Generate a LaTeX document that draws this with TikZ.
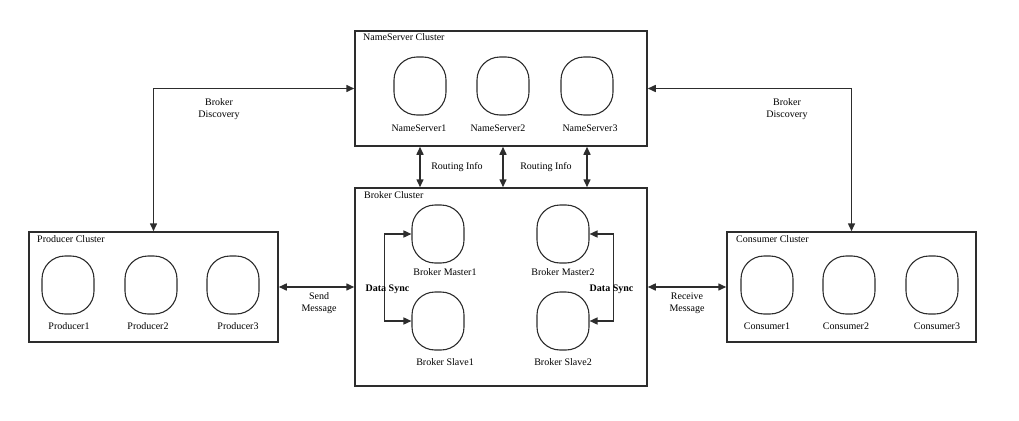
\documentclass[tikz,border=0pt]{standalone}
\usepackage{fontspec}
\setmainfont{Liberation Serif}
\usetikzlibrary{arrows.meta}
\definecolor{linegray}{RGB}{45,45,45}
\begin{document}
\begin{tikzpicture}[x=1pt,y=-1pt]
\tikzstyle{cluster}=[draw=linegray, line width=1.5pt, inner sep=0pt]
\tikzstyle{server}=[draw=linegray, line width=1.1pt, rounded corners=23pt, minimum width=52pt, minimum height=58pt, inner sep=0pt]
\tikzstyle{txt}=[font=\fontsize{10}{12}\selectfont, inner sep=0pt, align=center]
\tikzstyle{conn}=[draw=linegray, line width=1.5pt, {Triangle[length=8pt,width=7pt]}-{Triangle[length=8pt,width=7pt]}]

\useasboundingbox (0,0) rectangle (1019,420);

% cluster boxes
\node (ns-box) at (501,88.5) [cluster, minimum width=292pt, minimum height=115pt] {};
\node (broker-box) at (501,287) [cluster, minimum width=292pt, minimum height=198pt] {};
\node (prod-box) at (153.5,287) [cluster, minimum width=249pt, minimum height=110pt] {};
\node (cons-box) at (851.5,287) [cluster, minimum width=249pt, minimum height=110pt] {};

\node (ns-title) at (363,37) [txt, anchor=west] {NameServer Cluster};
\node (broker-title) at (364,195) [txt, anchor=west] {Broker Cluster};
\node (prod-title) at (37,239) [txt, anchor=west] {Producer Cluster};
\node (cons-title) at (736,239) [txt, anchor=west] {Consumer Cluster};

% name servers
\node (ns1) at (420,86) [server] {};
\node (ns2) at (503,86) [server] {};
\node (ns3) at (587,86) [server] {};
\node (ns1-lbl) at (419,128) [txt] {NameServer1};
\node (ns2-lbl) at (498,128) [txt] {NameServer2};
\node (ns3-lbl) at (590,128) [txt] {NameServer3};

% brokers
\node (bm1) at (438,234) [server] {};
\node (bm2) at (563,234) [server] {};
\node (bs1) at (438,321) [server] {};
\node (bs2) at (563,321) [server] {};
\node (bm1-lbl) at (445,272) [txt] {Broker Master1};
\node (bm2-lbl) at (563,272) [txt] {Broker Master2};
\node (bs1-lbl) at (445,362) [txt] {Broker Slave1};
\node (bs2-lbl) at (563,362) [txt] {Broker Slave2};

% producers
\node (p1) at (68,285) [server] {};
\node (p2) at (151,285) [server] {};
\node (p3) at (233,285) [server] {};
\node (p1-lbl) at (69,326) [txt] {Producer1};
\node (p2-lbl) at (148,326) [txt] {Producer2};
\node (p3-lbl) at (238,326) [txt] {Producer3};

% consumers
\node (c1) at (767,285) [server] {};
\node (c2) at (849,285) [server] {};
\node (c3) at (932,285) [server] {};
\node (c1-lbl) at (767,326) [txt] {Consumer1};
\node (c2-lbl) at (846,326) [txt] {Consumer2};
\node (c3-lbl) at (937,326) [txt] {Consumer3};

% broker discovery
\draw [conn] (ns-box.west) -| (prod-box.north);
\draw [conn] (ns-box.east) -| (cons-box.north);
\node (disc-l) at (219,109) [txt] {Broker\\Discovery};
\node (disc-r) at (787,109) [txt] {Broker\\Discovery};

% routing info
\foreach \n in {ns1,ns2,ns3}
    \draw [conn] (\n |- ns-box.south) -- (\n |- broker-box.north);
\node (route-l) at (457,167) [txt] {Routing Info};
\node (route-r) at (546,167) [txt] {Routing Info};

% messages
\draw [conn] (prod-box) -- (broker-box);
\draw [conn] (broker-box) -- (cons-box);
\node (send) at (319,303.5) [txt] {Send\\Message};
\node (recv) at (687,303.5) [txt] {Receive\\Message};

% data sync
\draw [conn] (bm1.west) -- ++(-27,0) |- (bs1.west);
\draw [conn] (bm2.east) -- ++(24,0) |- (bs2.east);
\node (sync-l) at (387.5,289) [txt] {\textbf{Data Sync}};
\node (sync-r) at (611.5,289) [txt] {\textbf{Data Sync}};

\end{tikzpicture}
\end{document}
